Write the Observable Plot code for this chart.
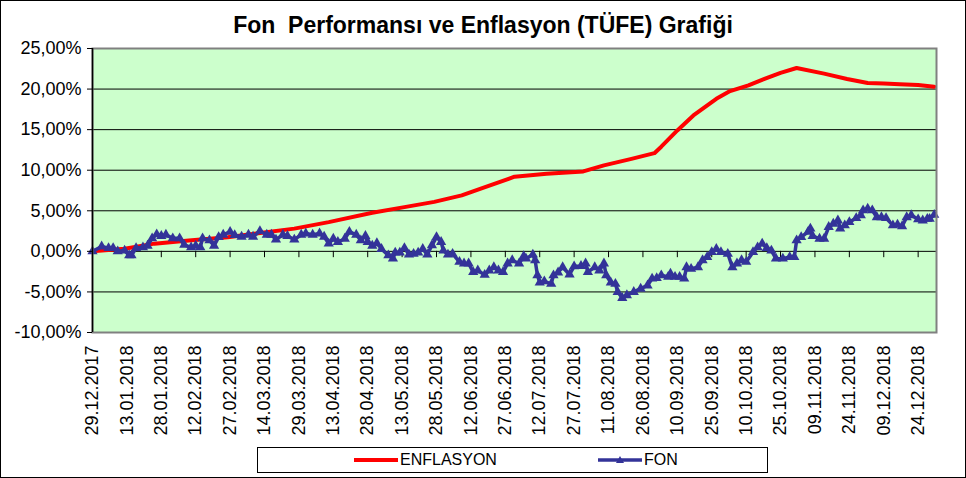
<!DOCTYPE html>
<html><head><meta charset="utf-8">
<script src="https://cdn.jsdelivr.net/npm/d3@7"></script>
<script src="https://cdn.jsdelivr.net/npm/@observablehq/plot@0.6"></script>
<style>
body{margin:0;background:#fff;font-family:"Liberation Sans",Arial,sans-serif;}
#wrap{position:relative;width:966px;height:478px;overflow:hidden;background:#fff;}
#wrap svg.plot{position:absolute;left:0;top:0;}
#border{position:absolute;left:0;top:0;width:966px;height:478px;box-sizing:border-box;border:1px solid #000;pointer-events:none;}
#title{position:absolute;left:0;top:12px;width:966px;text-align:center;font-weight:bold;font-size:23px;color:#000;}
#legend{position:absolute;left:257px;top:447px;width:511px;height:26px;box-sizing:border-box;border:1px solid #000;background:#fff;font-size:16px;}
#legend .item{position:absolute;top:0;height:24px;display:flex;align-items:center;}
</style></head>
<body>
<div id="wrap">
  <div id="title">Fon&nbsp; Performansı ve Enflasyon (TÜFE) Grafiği</div>
  <div id="legend"></div>
  <div id="border"></div>
</div>
<script>
const fonDates = ["2017-12-29","2018-01-02","2018-01-05","2018-01-07","2018-01-09","2018-01-12","2018-01-14","2018-01-15","2018-01-17","2018-01-20","2018-01-22","2018-01-24","2018-01-26","2018-01-28","2018-01-30","2018-02-02","2018-02-05","2018-02-07","2018-02-10","2018-02-12","2018-02-14","2018-02-15","2018-02-18","2018-02-20","2018-02-22","2018-02-24","2018-02-27","2018-03-01","2018-03-04","2018-03-07","2018-03-09","2018-03-12","2018-03-15","2018-03-17","2018-03-19","2018-03-22","2018-03-24","2018-03-27","2018-03-30","2018-04-01","2018-04-04","2018-04-07","2018-04-09","2018-04-11","2018-04-13","2018-04-15","2018-04-18","2018-04-20","2018-04-23","2018-04-25","2018-04-27","2018-04-28","2018-04-30","2018-05-02","2018-05-04","2018-05-07","2018-05-09","2018-05-10","2018-05-12","2018-05-14","2018-05-16","2018-05-18","2018-05-20","2018-05-22","2018-05-24","2018-05-26","2018-05-28","2018-05-30","2018-05-31","2018-06-02","2018-06-04","2018-06-07","2018-06-09","2018-06-11","2018-06-13","2018-06-15","2018-06-18","2018-06-20","2018-06-22","2018-06-24","2018-06-26","2018-06-28","2018-06-30","2018-07-03","2018-07-05","2018-07-06","2018-07-09","2018-07-10","2018-07-11","2018-07-12","2018-07-14","2018-07-17","2018-07-18","2018-07-20","2018-07-22","2018-07-25","2018-07-27","2018-07-30","2018-08-01","2018-08-02","2018-08-05","2018-08-07","2018-08-09","2018-08-10","2018-08-12","2018-08-14","2018-08-15","2018-08-17","2018-08-19","2018-08-22","2018-08-25","2018-08-28","2018-08-30","2018-09-01","2018-09-03","2018-09-06","2018-09-07","2018-09-09","2018-09-11","2018-09-13","2018-09-14","2018-09-16","2018-09-19","2018-09-21","2018-09-23","2018-09-25","2018-09-27","2018-09-29","2018-10-02","2018-10-04","2018-10-06","2018-10-08","2018-10-10","2018-10-13","2018-10-15","2018-10-17","2018-10-19","2018-10-21","2018-10-23","2018-10-26","2018-10-29","2018-10-31","2018-11-01","2018-11-03","2018-11-06","2018-11-07","2018-11-08","2018-11-11","2018-11-13","2018-11-15","2018-11-17","2018-11-19","2018-11-20","2018-11-22","2018-11-24","2018-11-27","2018-11-29","2018-11-30","2018-12-02","2018-12-04","2018-12-06","2018-12-08","2018-12-10","2018-12-13","2018-12-15","2018-12-17","2018-12-19","2018-12-21","2018-12-24","2018-12-26","2018-12-28","2018-12-29","2018-12-31"];
const fonValues = [0,0.6,0.4,0.4,0,0.1,-0.5,-0.5,0.4,0.5,0.7,1.6,2.1,1.9,2.05,1.6,1.6,0.8,0.5,0.7,0.5,1.6,1.35,0.7,1.75,2.05,2.4,2.0,1.8,2.05,1.8,2.5,2.05,2.05,1.45,2.05,1.9,1.45,2.05,2.2,2.05,2.2,1.8,0.95,1.55,1.15,1.55,2.4,2.05,1.35,1.9,1.15,0.7,1.0,0.3,-0.5,-0.9,-0.15,-0.15,0.4,-0.4,-0.3,-0.15,0.3,-0.4,0.75,1.75,1.15,0.1,-0.4,-0.3,-1.3,-1.5,-1.5,-2.55,-2.35,-2.9,-2.35,-1.95,-2.35,-2.55,-1.5,-1.1,-1.5,-0.6,-0.9,-0.4,-1.1,-2.95,-3.85,-3.7,-4.0,-2.95,-2.6,-1.95,-2.85,-1.85,-1.8,-1.5,-2.55,-1.95,-2.35,-1.5,-2.95,-3.85,-4.0,-5.0,-5.75,-5.4,-5.0,-4.6,-4.2,-3.35,-3.3,-2.95,-3.15,-2.75,-3.15,-3.15,-3.35,-1.95,-2.15,-1.95,-1.1,-0.7,-0.1,0.3,-0.1,-0.3,-1.95,-1.5,-1.1,-1.3,-0.1,0.5,0.95,0.4,0.1,-0.9,-0.9,-0.7,-0.7,1.35,1.75,2.4,2.8,1.9,1.55,1.55,3.0,3.4,3.8,2.8,3.2,3.6,4.1,4.45,5.05,5.25,5.05,4.2,4.2,4.1,3.2,3.3,3.1,4.2,4.45,3.95,3.8,4.0,4.0,4.5];

const enfDates = ["2017-12-29","2018-01-12","2018-01-25","2018-02-09","2018-02-26","2018-03-13","2018-03-27","2018-04-11","2018-04-30","2018-05-14","2018-05-27","2018-06-02","2018-06-08","2018-06-16","2018-07-01","2018-07-15","2018-07-31","2018-08-09","2018-08-21","2018-08-31","2018-09-03","2018-09-10","2018-09-17","2018-09-27","2018-10-03","2018-10-11","2018-10-18","2018-10-25","2018-11-01","2018-11-13","2018-11-23","2018-12-02","2018-12-09","2018-12-16","2018-12-24","2018-12-31"];
const enfValues = [0,0.33,0.95,1.35,1.75,2.3,2.8,3.6,4.75,5.45,6.1,6.5,6.9,7.7,9.2,9.55,9.85,10.6,11.4,12.1,12.9,14.9,16.75,18.8,19.75,20.45,21.25,22.0,22.6,21.9,21.25,20.75,20.7,20.6,20.5,20.3];

const yTicks = [-10,-5,0,5,10,15,20,25];
const xTickLabels = ["29.12.2017","13.01.2018","28.01.2018","12.02.2018","27.02.2018","14.03.2018","29.03.2018","13.04.2018","28.04.2018","13.05.2018","28.05.2018","12.06.2018","27.06.2018","12.07.2018","27.07.2018","11.08.2018","26.08.2018","10.09.2018","25.09.2018","10.10.2018","25.10.2018","09.11.2018","24.11.2018","09.12.2018","24.12.2018"];
const xDomain = ["2017-12-29","2019-01-01"];
const seriesNames = ["ENFLASYON","FON"];

const parseISO = d3.utcParse("%Y-%m-%d");
const parseTR = d3.utcParse("%d.%m.%Y");
const fmtTR = d3.utcFormat("%d.%m.%Y");
const fon = fonDates.map((d,i)=>({date:parseISO(d), value:fonValues[i]}));
const enf = enfDates.map((d,i)=>({date:parseISO(d), value:enfValues[i]}));
const xTicks = xTickLabels.map(parseTR);
const fmtY = d => d.toFixed(2).replace(".", ",") + "%";

const RED = "#ff0000", NAVY = "#333399";

const chart = Plot.plot({
  width: 966, height: 478,
  marginLeft: 92, marginRight: 30, marginTop: 48, marginBottom: 146,
  x: {type: "utc", domain: xDomain.map(parseISO), label: null},
  y: {domain: [-10, 25], label: null},
  style: {fontFamily: "Liberation Sans, Arial, sans-serif", fontSize: "15px", color: "#000", background: "transparent", overflow: "visible"},
  marks: [
    Plot.frame({fill: "#ccffcc"}),
    Plot.ruleY(yTicks.slice(1, -1), {stroke: "#000", strokeWidth: 1}),
    Plot.ruleX(xTicks.slice(1), {x: d => d, y1: 0, y2: -0.78, stroke: "#000", strokeWidth: 1}),
    Plot.line(enf, {x: "date", y: "value", stroke: RED, strokeWidth: 4}),
    Plot.line(fon, {x: "date", y: "value", stroke: NAVY, strokeWidth: 3.5}),
    Plot.dot(fon, {x: "date", y: "value", symbol: "triangle", fill: NAVY, r: 3.8}),
    Plot.frame({stroke: "#808080", strokeWidth: 2}),
    Plot.ruleX([xDomain[0]].map(parseISO), {stroke: "#000", strokeWidth: 1.5}),
    Plot.axisY(yTicks, {tickFormat: fmtY, tickSize: 5, tickPadding: 6, fontSize: 18, stroke: "#000", label: null}),
    Plot.axisX(xTicks, {tickFormat: fmtTR, tickRotate: -90, tickSize: 0, tickPadding: 13, fontSize: 18, label: null})
  ]
});
document.getElementById("wrap").prepend(chart);

// legend
const legend = document.getElementById("legend");
const items = [
  {name: seriesNames[0], color: RED, marker: false, left: 95},
  {name: seriesNames[1], color: NAVY, marker: true, left: 339}
];
for (const it of items) {
  const div = document.createElement("div");
  div.className = "item";
  div.style.left = it.left + "px";
  div.innerHTML = `<svg width="46" height="24"><line x1="1" x2="45" y1="12" y2="12" stroke="${it.color}" stroke-width="${it.marker ? 3.5 : 4}"/>` +
    (it.marker ? `<path d="M23,8 L27,15 L19,15 Z" fill="${it.color}"/>` : "") +
    `</svg><span style="margin-left:1px">${it.name}</span>`;
  legend.appendChild(div);
}
</script>
</body></html>
